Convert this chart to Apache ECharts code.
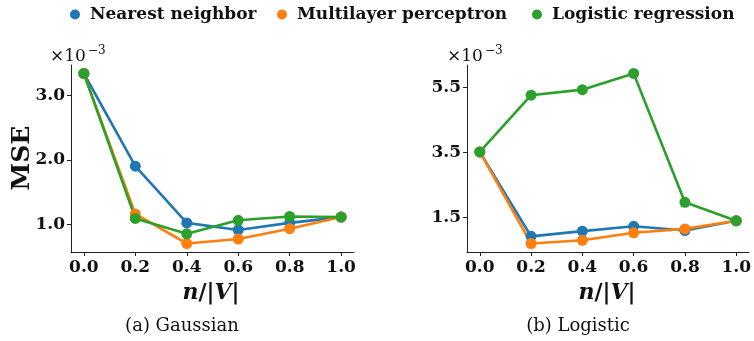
<!DOCTYPE html>
<html>
<head>
<meta charset="utf-8">
<script src="https://cdn.jsdelivr.net/npm/echarts@6/dist/echarts.min.js"></script>
<style>html,body{margin:0;padding:0;background:#fff}#c{width:754px;height:341px}</style>
</head>
<body>
<div id="c"></div>
<script>
// x positions (n/|V|)
var xVals = [0, 0.2, 0.4, 0.6, 0.8, 1.0];
var xTicks = [0, 0.2, 0.4, 0.6, 0.8, 1.0];
// MSE values in units of 1e-3
var gaussNN  = [3.34, 1.90, 1.02, 0.91, 1.02, 1.11];
var gaussMLP = [3.34, 1.16, 0.70, 0.77, 0.93, 1.11];
var gaussLR  = [3.34, 1.09, 0.85, 1.06, 1.12, 1.11];
var logNN  = [3.52, 0.92, 1.08, 1.23, 1.10, 1.40];
var logMLP = [3.52, 0.70, 0.80, 1.03, 1.15, 1.40];
var logLR  = [3.52, 5.27, 5.44, 5.94, 1.97, 1.40];
var gaussTicks = [1.0, 2.0, 3.0];
var logTicks = [1.5, 3.5, 5.5];
var seriesNames = ['Nearest neighbor', 'Multilayer perceptron', 'Logistic regression'];
var colors = ['#1f77b4', '#ff7f0e', '#2ca02c'];

var SERIF = '"DejaVu Serif", serif';
function pairs(ys){ return xVals.map(function(x,i){ return [x, ys[i]]; }); }

var axisCommon = {
  type: 'value',
  axisLine: {show: true, onZero: false, lineStyle: {color: '#222', width: 1}},
  axisTick: {show: true, inside: false, length: 4, lineStyle: {color: '#222', width: 1}},
  splitLine: {show: false},
  axisLabel: {fontFamily: SERIF, fontWeight: 'bold', fontSize: 17, color: '#111'}
};
function xAxis(gi){
  return Object.assign({}, axisCommon, {
    gridIndex: gi, min: -0.05, max: 1.05,
    axisTick: Object.assign({}, axisCommon.axisTick, {customValues: xTicks}),
    axisLabel: Object.assign({}, axisCommon.axisLabel, {margin: 7, customValues: xTicks,
      formatter: function(v){ return v.toFixed(1); }})
  });
}
function yAxis(gi, mn, mx, ticks){
  return Object.assign({}, axisCommon, {
    gridIndex: gi, min: mn, max: mx,
    axisTick: Object.assign({}, axisCommon.axisTick, {customValues: ticks}),
    axisLabel: Object.assign({}, axisCommon.axisLabel, {margin: 6, customValues: ticks,
      formatter: function(v){ return v.toFixed(1); }})
  });
}
function line(name, data, gi, ci){
  return {
    name: name, type: 'line', xAxisIndex: gi, yAxisIndex: gi,
    data: pairs(data), symbol: 'circle', symbolSize: 11, showSymbol: true,
    itemStyle: {color: colors[ci]}, lineStyle: {color: colors[ci], width: 2.6},
    emphasis: {disabled: true}
  };
}
function legend(i, left){
  return {
    data: [seriesNames[i]], left: left, top: 6, icon: 'circle', padding: 0,
    itemWidth: 10, itemHeight: 10,
    textStyle: {fontFamily: SERIF, fontWeight: 'bold', fontSize: 17, color: '#111', padding: [0,0,0,5]}
  };
}
function txt(x, y, text, size, opts, rot){
  return {type: 'text', x: x, y: y, rotation: rot || 0, style: Object.assign({text: text, fontFamily: SERIF, fontSize: size,
    fill: '#111', align: 'center', verticalAlign: 'middle'}, opts || {})};
}
function xlabel(x){
  return {type: 'text', x: x, y: 293, style: {text: '{i|n}{r|/|}{i|V}{r||}', align: 'center', verticalAlign: 'middle',
    rich: {i: {fontFamily: SERIF, fontSize: 22, fontWeight: 'bold', fontStyle: 'italic', fill: '#111'},
           r: {fontFamily: SERIF, fontSize: 22, fontWeight: 'bold', fill: '#111'}}}};
}

var chart = echarts.init(document.getElementById('c'));
chart.setOption({
  animation: false,
  legend: [legend(0, 70), legend(1, 277), legend(2, 532)],
  grid: [
    {left: 71, top: 65, width: 283, height: 187},
    {left: 467, top: 65, width: 283, height: 187}
  ],
  xAxis: [xAxis(0), xAxis(1)],
  yAxis: [yAxis(0, 0.568, 3.472, gaussTicks), yAxis(1, 0.438, 6.2, logTicks)],
  series: [
    line(seriesNames[0], gaussNN, 0, 0),
    line(seriesNames[1], gaussMLP, 0, 1),
    line(seriesNames[2], gaussLR, 0, 2),
    line(seriesNames[0], logNN, 1, 0),
    line(seriesNames[1], logMLP, 1, 1),
    line(seriesNames[2], logLR, 1, 2)
  ],
  graphic: [
    txt(22, 158, 'MSE', 25, {fontWeight: 'bold'}, Math.PI / 2),
    txt(50, 57, '×10', 17, {align: 'left'}),
    txt(88, 51, '−3', 12, {align: 'left'}),
    txt(447, 57, '×10', 17, {align: 'left'}),
    txt(485, 51, '−3', 12, {align: 'left'}),
    xlabel(211),
    xlabel(607),
    txt(182, 326, '(a) Gaussian', 18),
    txt(578, 326, '(b) Logistic', 18)
  ]
});
</script>
</body>
</html>
